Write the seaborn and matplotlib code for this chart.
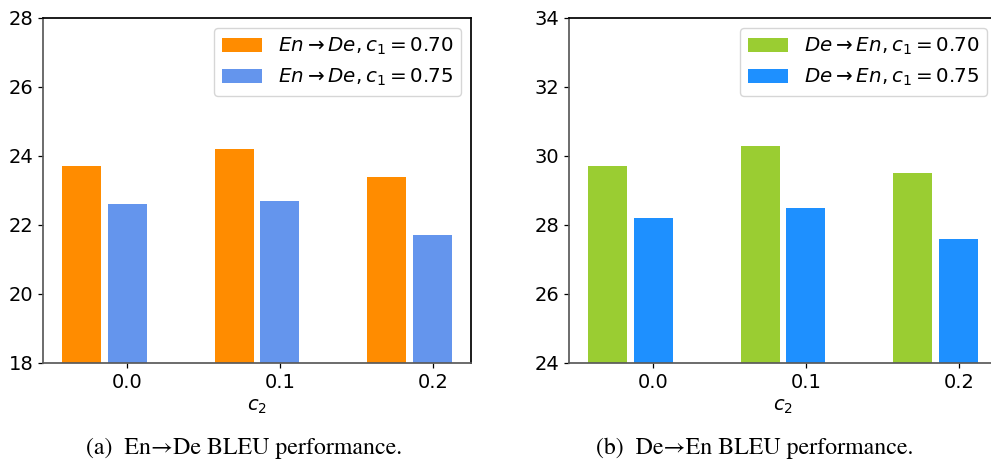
import numpy as np
import pandas as pd
import matplotlib
matplotlib.use("Agg")
import matplotlib.pyplot as plt
import seaborn as sns

# data
c2_values = ["0.0", "0.1", "0.2"]
en_de_070 = [23.7, 24.2, 23.4]
en_de_075 = [22.6, 22.7, 21.7]
de_en_070 = [29.7, 30.3, 29.5]
de_en_075 = [28.2, 28.5, 27.6]

en_de_labels = [r"$En \rightarrow De, c_1 = 0.70$", r"$En \rightarrow De, c_1 = 0.75$"]
de_en_labels = [r"$De \rightarrow En, c_1 = 0.70$", r"$De \rightarrow En, c_1 = 0.75$"]
en_de_colors = ["#FF8C00", "#6495ED"]
de_en_colors = ["#9ACD32", "#1E90FF"]

sns.set_theme(style="ticks", rc={
    "axes.edgecolor": "black", "text.color": "black", "axes.labelcolor": "black",
    "xtick.color": "black", "ytick.color": "black",
})
plt.rcParams["font.family"] = ["DejaVu Sans"]
plt.rcParams["mathtext.fontset"] = "dejavusans"


def long_frame(v1, v2, labels):
    return pd.DataFrame({
        "c2": c2_values * 2,
        "bleu": list(v1) + list(v2),
        "setting": [labels[0]] * len(v1) + [labels[1]] * len(v2),
    })


def draw_panel(ax, df, labels, colors, ylim):
    sns.barplot(data=df, x="c2", y="bleu", hue="setting", hue_order=labels,
                palette=colors, width=0.6, gap=0.15, errorbar=None,
                saturation=1, linewidth=0, ax=ax)
    ax.set_ylim(*ylim)
    ax.set_yticks(np.arange(ylim[0], ylim[1] + 1, 2))
    ax.set_xlim(-0.4, 2.4)
    ax.set_xticks(np.arange(len(c2_values)) + 0.15)
    ax.set_xticklabels(c2_values)
    ax.tick_params(axis="both", labelsize=14, length=3.5, width=0.9)
    ax.set_xlabel("$c_2$", fontsize=14)
    ax.set_ylabel("")
    for side in ["left", "bottom"]:
        ax.spines[side].set_color("#5a5a5a")
    for side in ["top", "right"]:
        ax.spines[side].set_color("black")
    sns.move_legend(ax, "upper right", title=None, fontsize=14.3, frameon=True)


fig = plt.figure(figsize=(9.91, 4.59), dpi=100)
ax1 = fig.add_axes([0.0434, 0.2092, 0.4319, 0.7516])
ax2 = fig.add_axes([0.5742, 0.2092, 0.4319, 0.7516])

draw_panel(ax1, long_frame(en_de_070, en_de_075, en_de_labels), en_de_labels, en_de_colors, (18, 28))
draw_panel(ax2, long_frame(de_en_070, de_en_075, de_en_labels), de_en_labels, de_en_colors, (24, 34))

cap_font = ["STIXGeneral", "Liberation Serif", "DejaVu Serif"]
fig.text(0.246, 0.024, "(a)  En\u2192De BLEU performance.", ha="center", va="center",
         fontsize=17.2, family=cap_font)
fig.text(0.762, 0.024, "(b)  De\u2192En BLEU performance.", ha="center", va="center",
         fontsize=17.2, family=cap_font)

fig.savefig("out.png", dpi=100)
